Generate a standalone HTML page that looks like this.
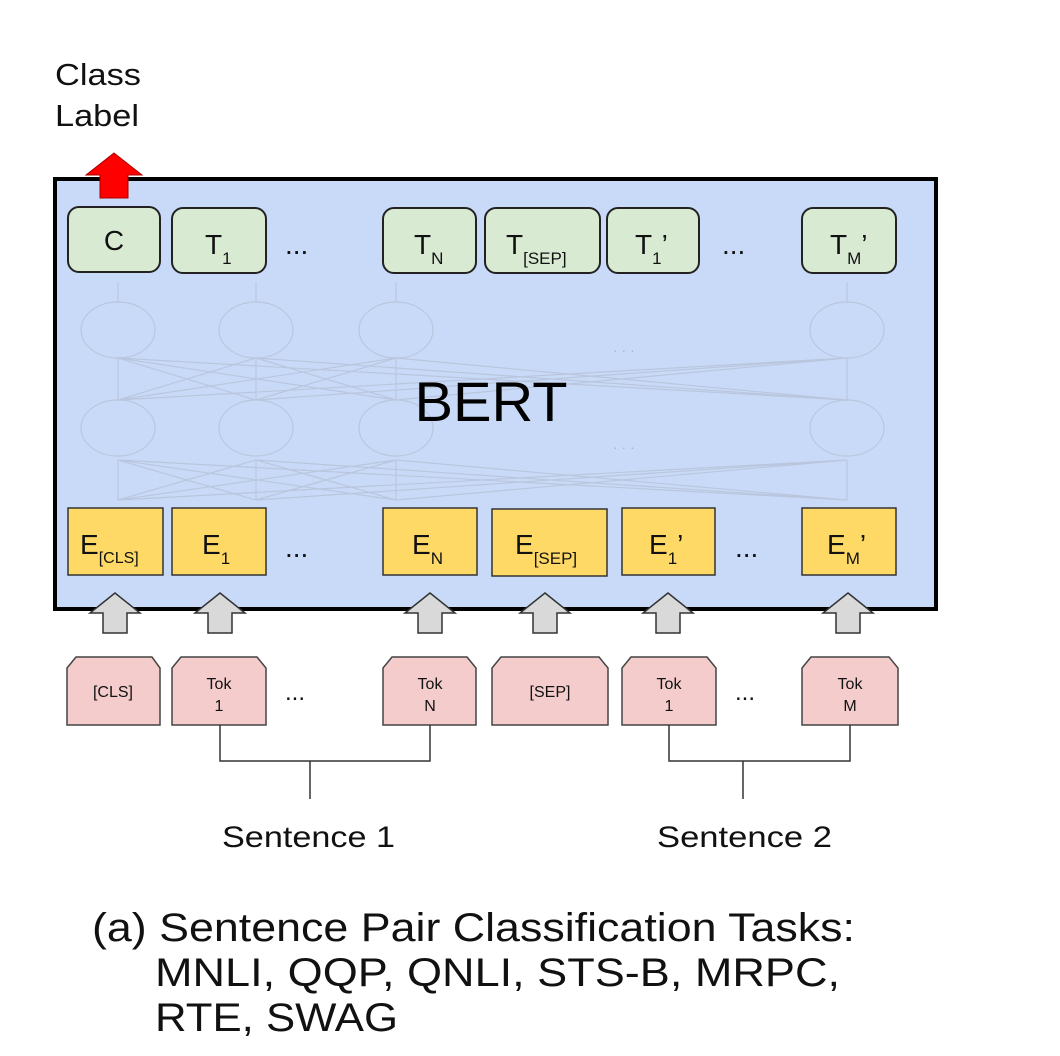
<!DOCTYPE html>
<html><head><meta charset="utf-8"><style>
html,body{margin:0;padding:0;background:#fff;}
svg{display:block;font-family:"Liberation Sans",sans-serif;}
</style></head><body>
<svg width="1060" height="1056" viewBox="0 0 1060 1056" xmlns="http://www.w3.org/2000/svg">
<text x="55" y="85" font-size="31" fill="#111" textLength="86" lengthAdjust="spacingAndGlyphs">Class</text>
<text x="55" y="126" font-size="31" fill="#111" textLength="84" lengthAdjust="spacingAndGlyphs">Label</text>
<rect x="55" y="179" width="881" height="430" fill="#c9daf8" stroke="#000" stroke-width="4"/>
<polygon points="114,153 142,175 128,175 128,198 100,198 100,175 86,175" fill="#f00" stroke="#a00" stroke-width="1"/>
<g stroke="#aab4c4" stroke-width="1.2" fill="none" opacity="0.5">
<ellipse cx="118" cy="330" rx="37" ry="28"/><ellipse cx="256" cy="330" rx="37" ry="28"/><ellipse cx="396" cy="330" rx="37" ry="28"/><ellipse cx="847" cy="330" rx="37" ry="28"/>
<ellipse cx="118" cy="428" rx="37" ry="28"/><ellipse cx="256" cy="428" rx="37" ry="28"/><ellipse cx="396" cy="428" rx="37" ry="28"/><ellipse cx="847" cy="428" rx="37" ry="28"/>
<path d="M118 500V460M256 500V460M396 500V460M847 500V460M118 400V358M256 400V358M396 400V358M847 400V358M118 302V282M256 302V282M396 302V282M847 302V282"/>
<path d="M118 500L256 460M118 500L396 460M118 500L847 460M256 500L118 460M256 500L396 460M256 500L847 460M396 500L118 460M396 500L256 460M396 500L847 460M847 500L118 460M847 500L256 460M847 500L396 460"/>
<path d="M118 400L256 358M118 400L396 358M118 400L847 358M256 400L118 358M256 400L396 358M256 400L847 358M396 400L118 358M396 400L256 358M396 400L847 358M847 400L118 358M847 400L256 358M847 400L396 358"/>
</g>
<text x="613" y="355" font-size="14" fill="#aab4c4">· · ·</text>
<text x="613" y="452" font-size="14" fill="#aab4c4">· · ·</text>
<text x="491" y="421" font-size="56" text-anchor="middle" fill="#000" textLength="153" lengthAdjust="spacingAndGlyphs">BERT</text>
<g fill="#d9ead3" stroke="#222" stroke-width="2">
<rect x="68" y="207" width="92" height="65" rx="11"/>
<rect x="172" y="208" width="94" height="65" rx="11"/>
<rect x="383" y="208" width="93" height="65" rx="11"/>
<rect x="485" y="208" width="115" height="65" rx="11"/>
<rect x="607" y="208" width="92" height="65" rx="11"/>
<rect x="802" y="208" width="94" height="65" rx="11"/>
</g>
<g font-size="28" fill="#111">
<text x="114" y="250" text-anchor="middle">C</text>
<text x="205" y="254">T<tspan font-size="17" dy="10">1</tspan></text>
<text x="414" y="254">T<tspan font-size="17" dy="10">N</tspan></text>
<text x="506" y="254">T<tspan font-size="17" dy="10">[SEP]</tspan></text>
<text x="635" y="254">T<tspan font-size="17" dy="10">1</tspan><tspan dy="-10">’</tspan></text>
<text x="830" y="254">T<tspan font-size="17" dy="10">M</tspan><tspan dy="-10">’</tspan></text>
<text x="285" y="254">...</text>
<text x="722" y="254">...</text>
</g>
<g fill="#ffd966" stroke="#333" stroke-width="1.5">
<rect x="68" y="508" width="95" height="67"/>
<rect x="172" y="508" width="94" height="67"/>
<rect x="383" y="508" width="94" height="67"/>
<rect x="492" y="509" width="115" height="67"/>
<rect x="622" y="508" width="93" height="67"/>
<rect x="802" y="508" width="94" height="67"/>
</g>
<g font-size="28" fill="#111">
<text x="80" y="554">E<tspan font-size="16" dy="9">[CLS]</tspan></text>
<text x="202" y="554">E<tspan font-size="17" dy="10">1</tspan></text>
<text x="412" y="554">E<tspan font-size="17" dy="10">N</tspan></text>
<text x="515" y="554">E<tspan font-size="17" dy="10">[SEP]</tspan></text>
<text x="649" y="554">E<tspan font-size="17" dy="10">1</tspan><tspan dy="-10">’</tspan></text>
<text x="827" y="554">E<tspan font-size="17" dy="10">M</tspan><tspan dy="-10">’</tspan></text>
<text x="285" y="557">...</text>
<text x="735" y="557">...</text>
</g>
<g fill="#d9d9d9" stroke="#333" stroke-width="1.5">
<polygon points="115,593 140,613 127,613 127,633 103,633 103,613 90,613"/>
<polygon points="220,593 245,613 232,613 232,633 208,633 208,613 195,613"/>
<polygon points="430,593 455,613 442,613 442,633 418,633 418,613 405,613"/>
<polygon points="545,593 570,613 557,613 557,633 533,633 533,613 520,613"/>
<polygon points="668,593 693,613 680,613 680,633 656,633 656,613 643,613"/>
<polygon points="848,593 873,613 860,613 860,633 836,633 836,613 823,613"/>
</g>
<g fill="#f4cccc" stroke="#444" stroke-width="1.5">
<polygon points="76,657 152,657 160,668 160,725 67,725 67,668"/>
<polygon points="181,657 257,657 266,668 266,725 172,725 172,668"/>
<polygon points="392,657 467,657 476,668 476,725 383,725 383,668"/>
<polygon points="501,657 599,657 608,668 608,725 492,725 492,668"/>
<polygon points="631,657 707,657 716,668 716,725 622,725 622,668"/>
<polygon points="811,657 889,657 898,668 898,725 802,725 802,668"/>
</g>
<g font-size="16" fill="#111" text-anchor="middle">
<text x="113" y="697">[CLS]</text>
<text x="219" y="689">Tok</text><text x="219" y="711">1</text>
<text x="430" y="689">Tok</text><text x="430" y="711">N</text>
<text x="550" y="697">[SEP]</text>
<text x="669" y="689">Tok</text><text x="669" y="711">1</text>
<text x="850" y="689">Tok</text><text x="850" y="711">M</text>
</g>
<g font-size="24" fill="#111"><text x="285" y="700">...</text><text x="735" y="700">...</text></g>
<g stroke="#333" stroke-width="1.5" fill="none">
<path d="M220 725V761H430V725M310 761V799"/>
<path d="M669 725V761H850V725M743 761V799"/>
</g>
<g font-size="30" fill="#111">
<text x="222" y="847" textLength="173" lengthAdjust="spacingAndGlyphs">Sentence 1</text>
<text x="657" y="847" textLength="175" lengthAdjust="spacingAndGlyphs">Sentence 2</text>
</g>
<g font-size="40" fill="#111">
<text x="92" y="941" textLength="763" lengthAdjust="spacingAndGlyphs">(a) Sentence Pair Classification Tasks:</text>
<text x="155" y="986" textLength="685" lengthAdjust="spacingAndGlyphs">MNLI, QQP, QNLI, STS-B, MRPC,</text>
<text x="155" y="1031" textLength="243" lengthAdjust="spacingAndGlyphs">RTE, SWAG</text>
</g>
</svg>
</body></html>
